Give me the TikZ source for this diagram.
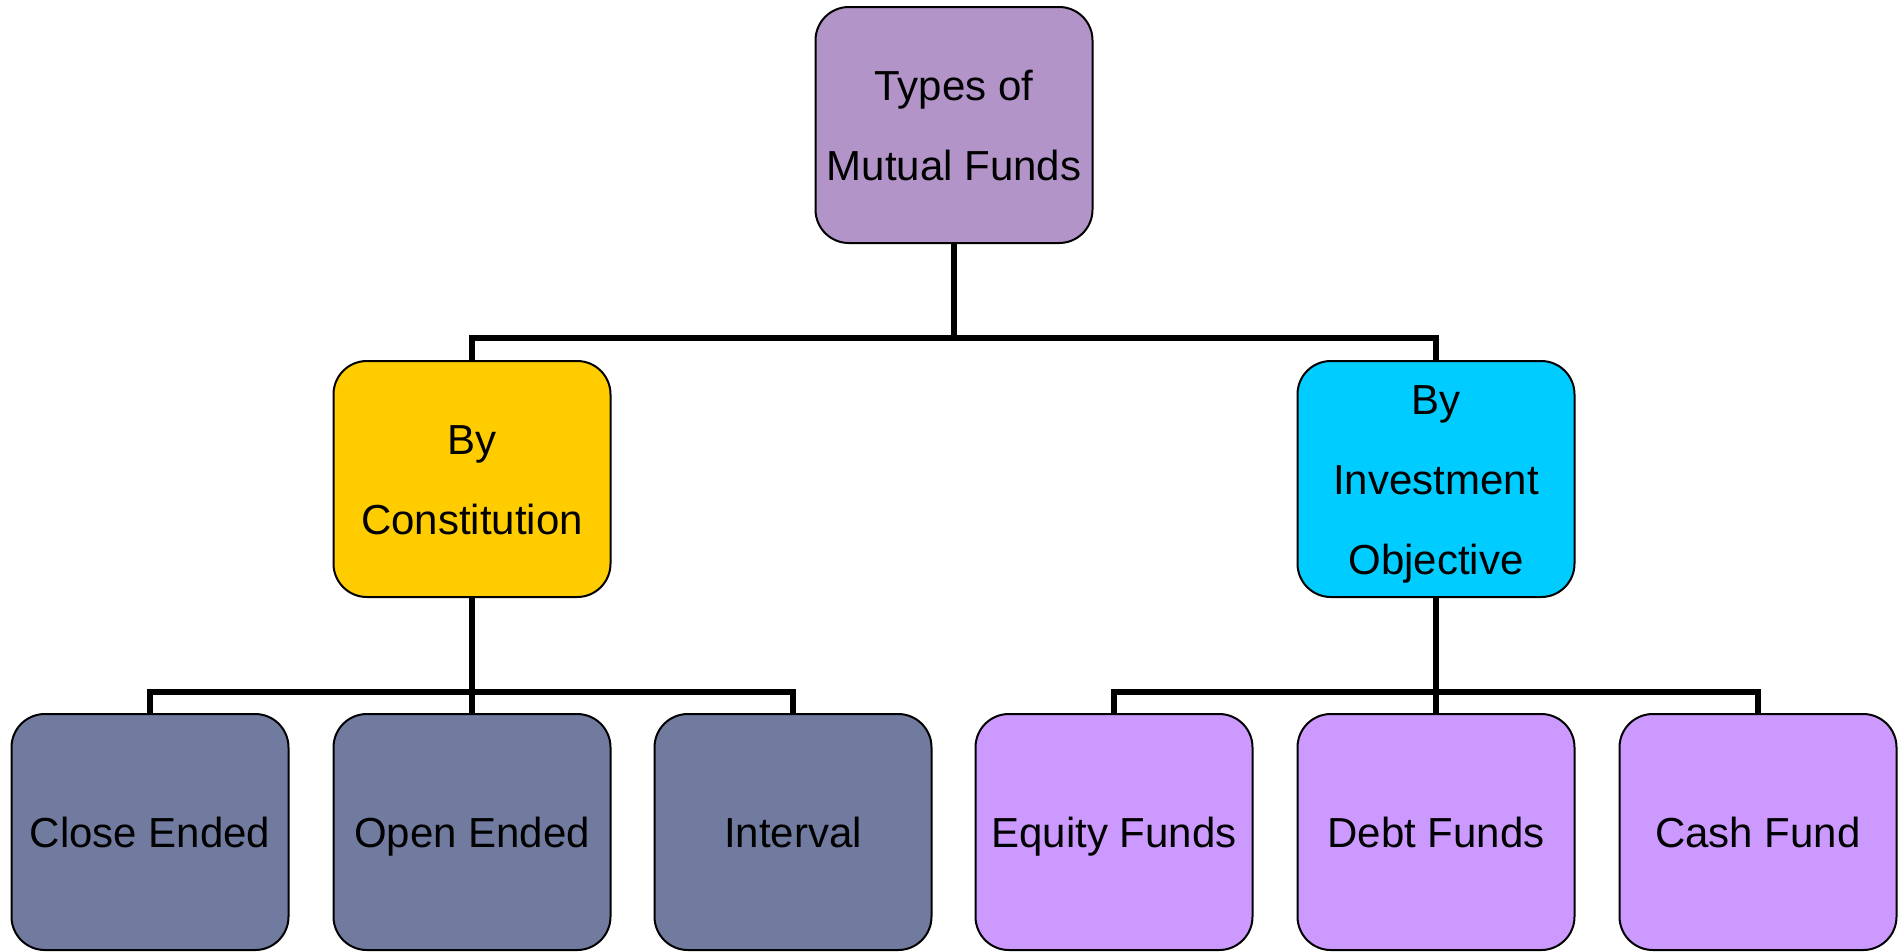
\documentclass[tikz,border=0pt]{standalone}
\usepackage{fontspec}
\setmainfont{Liberation Sans}
\definecolor{topc}{RGB}{178,148,200}
\definecolor{yel}{RGB}{255,204,0}
\definecolor{cya}{RGB}{0,204,255}
\definecolor{slate}{RGB}{113,123,160}
\definecolor{lilac}{RGB}{204,153,255}
\tikzset{
  box/.style={draw=black, line width=1.5pt, rounded corners=25pt, minimum width=207.75pt, minimum height=177pt, inner sep=0pt, align=center, font=\fontsize{31.5}{60}\selectfont, text=black, text height=22.6pt, text depth=0pt},
  twolines/.style={text height=82.6pt},
  threelines/.style={text height=142.6pt},
  conn/.style={draw=black, line width=4.2pt}
}
\begin{document}
\begin{tikzpicture}[x=0.75pt,y=-0.75pt]
\useasboundingbox[fill=white] (0,0) rectangle (1904,951);
\node[box, twolines, fill=topc] (top) at (954,125) {Types of\\Mutual Funds};
\node[box, twolines, fill=yel] (constit) at (472,479) {By\\Constitution};
\node[box, threelines, fill=cya] (invest) at (1436,479) {By\\Investment\\Objective};
\node[box, fill=slate] (close) at (150,832) {Close Ended};
\node[box, fill=slate] (open) at (472,832) {Open Ended};
\node[box, fill=slate] (interval) at (793,832) {Interval};
\node[box, fill=lilac] (equity) at (1114,832) {Equity Funds};
\node[box, fill=lilac] (debt) at (1436,832) {Debt Funds};
\node[box, fill=lilac] (cash) at (1758,832) {Cash Fund};
\coordinate (j1) at (954,338);
\coordinate (j2) at (472,692);
\coordinate (j3) at (1436,692);
\draw[conn] (top.south) -- (j1);
\draw[conn] (constit.north) |- (j1) -| (invest.north);
\draw[conn] (constit.south) -- (open.north);
\draw[conn] (close.north) |- (j2) -| (interval.north);
\draw[conn] (invest.south) -- (debt.north);
\draw[conn] (equity.north) |- (j3) -| (cash.north);
\end{tikzpicture}
\end{document}
